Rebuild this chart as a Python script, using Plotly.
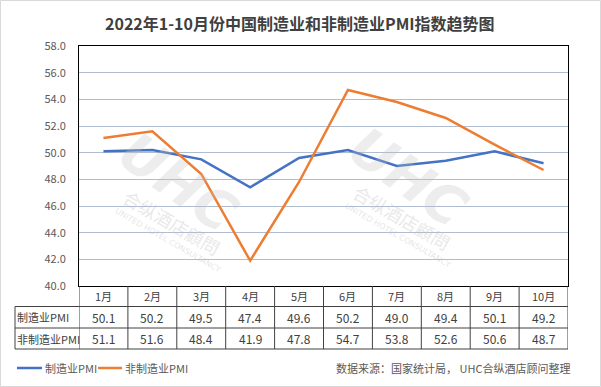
import plotly.graph_objects as go

months = ["1月", "2月", "3月", "4月", "5月", "6月", "7月", "8月", "9月", "10月"]
mfg_pmi = [50.1, 50.2, 49.5, 47.4, 49.6, 50.2, 49.0, 49.4, 50.1, 49.2]
nonmfg_pmi = [51.1, 51.6, 48.4, 41.9, 47.8, 54.7, 53.8, 52.6, 50.6, 48.7]
series_names = ["制造业PMI", "非制造业PMI"]
series_colors = ["#4472C4", "#ED7D31"]
title_text = "2022年1-10月份中国制造业和非制造业PMI指数趋势图"
source_text = "数据来源：国家统计局， UHC合纵酒店顾问整理"

W, H = 601, 387
L, R, T, B = 79, 568, 46, 286
FONT = "Noto Sans CJK SC, Microsoft YaHei, sans-serif"
TXT = "#404040"


def px_x(px):
    return (px - L) / (R - L)


def px_y(py):
    return (B - py) / (B - T)


fig = go.Figure()
for name, vals, col in zip(series_names, [mfg_pmi, nonmfg_pmi], series_colors):
    fig.add_trace(go.Scatter(x=months, y=vals, mode="lines", name=name,
                             line=dict(color=col, width=2.5), showlegend=False))

ann = []
shapes = []

# title
ann.append(dict(text="<b>" + title_text + "</b>", xref="paper", yref="paper",
                x=px_x(300), y=px_y(23), showarrow=False, xanchor="center", yanchor="middle",
                font=dict(size=16, color=TXT, family=FONT)))

# watermark
for cx, cy in [(178, 182), (408, 177)]:
    ann.append(dict(text="<b><i>UHC</i></b>", xref="paper", yref="paper", x=px_x(cx), y=px_y(cy),
                    xanchor="center", yanchor="middle",
                    showarrow=False, textangle=35, font=dict(size=54, color="rgba(190,190,190,0.28)",
                                                             family="DejaVu Sans")))
    ann.append(dict(text="合纵酒店顧問", xref="paper", yref="paper", x=px_x(cx - 6), y=px_y(cy + 40),
                    xanchor="center", yanchor="middle",
                    showarrow=False, textangle=30, font=dict(size=18, color="rgba(190,190,190,0.35)",
                                                             family=FONT)))
    ann.append(dict(text="UNITED HOTEL CONSULTANCY", xref="paper", yref="paper", x=px_x(cx - 10),
                    y=px_y(cy + 58), xanchor="center", yanchor="middle", showarrow=False, textangle=30,
                    font=dict(size=8, color="rgba(190,190,190,0.4)", family="DejaVu Sans")))

# table
row_y = [296, 317, 338.5]
for m in months:
    ann.append(dict(text=m, xref="x", yref="paper", x=m, y=px_y(row_y[0]), showarrow=False,
                    xanchor="center", yanchor="middle",
                    font=dict(size=11, color=TXT, family=FONT)))
for ri, vals in enumerate([mfg_pmi, nonmfg_pmi]):
    ann.append(dict(text=series_names[ri], xref="paper", yref="paper", x=px_x(15),
                    y=px_y(row_y[ri + 1]), xanchor="left", yanchor="middle", showarrow=False,
                    font=dict(size=11, color=TXT, family=FONT)))
    for m, v in zip(months, vals):
        ann.append(dict(text=f"{v:.1f}", xref="x", yref="paper", x=m, y=px_y(row_y[ri + 1]),
                        xanchor="center", yanchor="middle",
                        showarrow=False, font=dict(size=12, color=TXT, family=FONT)))

line_style = dict(color="#404040", width=1)
for py in [306.5, 328, 349]:
    shapes.append(dict(type="line", xref="paper", yref="paper", x0=px_x(15), x1=px_x(R),
                       y0=px_y(py), y1=px_y(py), line=line_style))
shapes.append(dict(type="line", xref="paper", yref="paper", x0=px_x(15), x1=px_x(15),
                   y0=px_y(306.5), y1=px_y(349), line=line_style))
for i in range(len(months) + 1):
    shapes.append(dict(type="line", xref="x", yref="paper", x0=i - 0.5, x1=i - 0.5,
                       y0=0, y1=px_y(349), line=line_style))

# legend (manual)
leg_y = 368
for (x0, x1, tx), name, col in zip([(17, 42, 43), (98, 122, 123)], series_names, series_colors):
    shapes.append(dict(type="line", xref="paper", yref="paper", x0=px_x(x0), x1=px_x(x1),
                       y0=px_y(leg_y), y1=px_y(leg_y), line=dict(color=col, width=2.5)))
    ann.append(dict(text=name, xref="paper", yref="paper", x=px_x(tx), y=px_y(leg_y),
                    xanchor="left", yanchor="middle", showarrow=False,
                    font=dict(size=11, color="#595959", family=FONT)))

# source
ann.append(dict(text=source_text, xref="paper", yref="paper", x=px_x(572), y=px_y(368),
                xanchor="right", yanchor="middle", showarrow=False,
                font=dict(size=11, color="#595959", family=FONT)))

# outer border
shapes.append(dict(type="rect", xref="paper", yref="paper", x0=px_x(0.5), x1=px_x(600.5),
                   y0=px_y(386.5), y1=px_y(0.5), line=dict(color="#D9D9D9", width=1)))

fig.update_layout(
    width=W, height=H,
    margin=dict(l=L, r=W - R, t=T, b=H - B, pad=0, autoexpand=False),
    paper_bgcolor="white", plot_bgcolor="white",
    font=dict(family=FONT, color=TXT),
    showlegend=False,
    annotations=ann, shapes=shapes,
)
fig.update_xaxes(type="category", range=[-0.5, len(months) - 0.5], showticklabels=False,
                 showgrid=False, showline=True, mirror=True, linecolor="black", linewidth=1,
                 ticks="", zeroline=False, automargin=False)
fig.update_yaxes(range=[40, 58], dtick=2, tick0=40, tickformat=".1f", showgrid=True,
                 gridcolor="#B0BDD0", gridwidth=1, showline=True, mirror=True, linecolor="black",
                 linewidth=1, ticks="outside", ticklen=10, tickcolor="rgba(0,0,0,0)",
                 tickfont=dict(size=11, color="#595959", family=FONT), zeroline=False,
                 automargin=False)

fig.write_html("out.html", config={"displayModeBar": False},
               post_script="document.body.style.margin='0';document.body.style.overflow='hidden';")
